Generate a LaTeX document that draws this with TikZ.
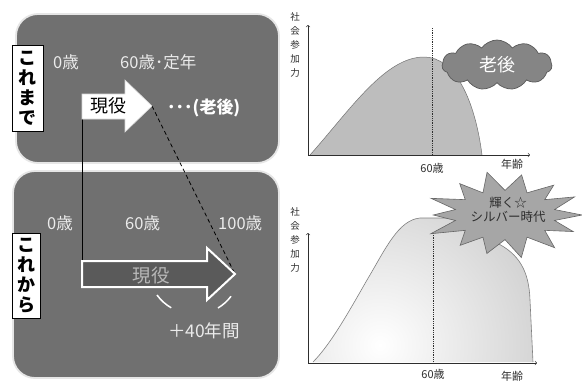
\documentclass[tikz,border=0pt]{standalone}
\usepackage{fontspec}
\setmainfont{Noto Sans CJK JP}
\usetikzlibrary{shapes.symbols}
\definecolor{panel}{HTML}{707070}
\definecolor{panelline}{HTML}{E6E6E6}
\definecolor{arrowdark}{HTML}{5A5A5A}
\definecolor{curvefill}{HTML}{BDBDBD}
\definecolor{cloudfill}{HTML}{858585}
\definecolor{starfill}{HTML}{A6A6A6}
\definecolor{inktext}{HTML}{2E2E2E}
\tikzset{
  panelbox/.style={fill=panel, draw=panelline, line width=1.8pt, rounded corners=22pt},
  vlabel/.style={draw=black, fill=white, line width=1pt, inner sep=0pt, align=center,
    font=\fontsize{18}{20}\selectfont\bfseries},
  ptext/.style={text=white!92!black, font=\fontsize{16.5}{18}\selectfont, inner sep=0pt},
  axis/.style={draw=inktext, line width=0.6pt, ->, >=to},
  chartlbl/.style={text=inktext, font=\fontsize{11}{12}\selectfont, inner sep=0pt},
  axislbl/.style={text=inktext, font=\fontsize{9.5}{13.8}\selectfont, inner sep=0pt, align=center},
  dottedline/.style={draw=inktext, line width=0.5pt, dash pattern=on 0.9pt off 0.9pt},
  parenarc/.style={draw=white, line width=1.5pt},
}
\begin{document}
\begin{tikzpicture}[x=1pt,y=-1pt]
\useasboundingbox[fill=white] (0,0) rectangle (582,381);

% panels
\draw[panelbox] (16,14) rectangle (279,163);
\draw[panelbox] (13,171) rectangle (279,378);

% vertical labels
\node[vlabel, minimum width=31pt, minimum height=86pt] (kore) at (27.5,88) {こ\\れ\\ま\\で};
\node[vlabel, minimum width=28pt, minimum height=85pt] (kara) at (26,275.5) {こ\\れ\\か\\ら};

% top panel texts
\node[ptext, anchor=west] (t0) at (53,62) {0歳};
\node[ptext, anchor=west] (t60) at (120,62) {60歳･定年};
\node[ptext, anchor=west, font=\fontsize{17}{18}\selectfont\bfseries, text=white] (rougo) at (167,108) {･･･(老後)};

% bottom panel texts
\node[ptext, anchor=west] (b0) at (47,223) {0歳};
\node[ptext, anchor=west] (b60) at (125,223) {60歳};
\node[ptext, anchor=west] (b100) at (218,223) {100歳};
\node[ptext, font=\fontsize{17.5}{19}\selectfont] (plus40) at (204,331) {＋40年間};

% connector coordinates
\coordinate (topstart) at (82,119);
\coordinate (botstart) at (82,261);
\coordinate (toptip) at (152,106);
\coordinate (bottip) at (235,274);

% connectors
\draw[black, line width=1pt] (topstart) -- (botstart);
\draw[black, line width=0.8pt, dash pattern=on 4pt off 3pt] (toptip) -- (bottip);

% top arrow
\draw[fill=white, draw=white!85!black, line width=0.6pt]
  (82,94) -- (125,94) -- (125,80) -- (toptip) -- (125,132) -- (125,119) -- (topstart) -- cycle;
\node[font=\fontsize{18}{20}\selectfont, text=black, inner sep=0pt] (genA) at (108,106) {現役};

% bottom arrow
\draw[fill=arrowdark, draw=white, line width=2pt, line join=miter]
  (botstart) -- (207,261) -- (207,248) -- (bottip) -- (207,300) -- (207,287) -- (82,287) -- cycle;
\node[font=\fontsize{18.5}{20}\selectfont, text=white!72!black, inner sep=0pt] (genB) at (151,276) {現役};

% parenthesis arcs
\draw[parenarc] (157,295) arc[start angle=216, end angle=240, radius=46pt];
\draw[parenarc] (218,308) arc[start angle=301, end angle=323, radius=46pt];

% ===== chart 1 =====
\coordinate (o1) at (308,155);
\coordinate (y1) at (308,25);
\coordinate (x1) at (530,155);
\fill[curvefill] (310,155) .. controls (350,110) and (385,57) .. (424,57)
   .. controls (455,57) and (475,100) .. (482,155) -- cycle;
\draw[draw=black!55, line width=0.5pt] (310,155) .. controls (350,110) and (385,57) .. (424,57)
   .. controls (455,57) and (475,100) .. (482,155);
\draw[dottedline] (432,28) -- (432,155);
\draw[axis] (o1) -- (y1);
\draw[axis] (o1) -- (x1);
\node[axislbl] (ax1) at (295,45) {社\\会\\参\\加\\力};
\node[chartlbl] (c1age) at (432,168) {60歳};
\node[chartlbl] (c1nen) at (512,164) {年齢};
\node[cloud, cloud puffs=11, cloud puff arc=110, aspect=2.4, minimum width=110pt, minimum height=50pt,
      fill=cloudfill, draw=black!65, line width=0.7pt, text=white, inner sep=0pt,
      font=\fontsize{18}{20}\selectfont] (cloud) at (497,65) {老後};

% ===== chart 2 =====
\coordinate (o2) at (308,363);
\coordinate (y2) at (308,233);
\coordinate (x2) at (537,363);
\begin{scope}
\clip (313,362) .. controls (330,345) and (347,315) .. (367,280)
  .. controls (385,250) and (398,220) .. (420,218)
  -- (447,218) .. controls (465,222) and (480,234) .. (495,242)
  .. controls (520,254) and (529,272) .. (530,300) -- (533,362) -- cycle;
\shade[inner color=white, outer color=black!40] (380,345) circle[radius=380pt];
\end{scope}
\draw[draw=black!50, line width=0.6pt]
  (313,362) .. controls (330,345) and (347,315) .. (367,280)
  .. controls (385,250) and (398,220) .. (420,218)
  -- (447,218) .. controls (465,222) and (480,234) .. (495,242)
  .. controls (520,254) and (529,272) .. (530,300) -- (533,362);
\draw[dottedline] (433,233) -- (433,363);
\draw[axis] (o2) -- (y2);
\draw[axis] (o2) -- (x2);
\node[axislbl] (ax2) at (295,240) {社\\会\\参\\加\\力};
\node[chartlbl] (c2age) at (433,374) {60歳};
\node[chartlbl] (c2nen) at (512,376) {年齢};

% star burst
\fill[starfill, draw=black!60, line width=0.6pt]
  (505+77,215) \foreach \k in {1,...,27} {
    -- ({505+77*(mod(\k,2)==0 ? (1+0.07*sin(\k*97)) : 0.66)*cos(\k*360/28)},
        {215+41*(mod(\k,2)==0 ? (1+0.07*sin(\k*131)) : 0.6)*sin(\k*360/28)})
  } -- cycle;
\node[text=inktext, font=\fontsize{12.5}{14.5}\selectfont, align=center, inner sep=0pt] (star) at (508,210)
  {輝く☆\\シルバー時代};
\end{tikzpicture}
\end{document}
